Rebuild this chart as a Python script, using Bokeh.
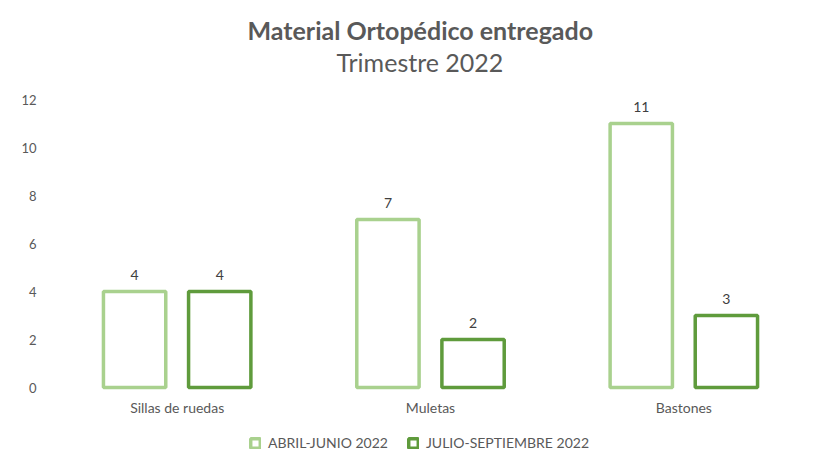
from bokeh.plotting import figure
from bokeh.models import ColumnDataSource, FactorRange, Range1d, Legend, LegendItem, Title
from bokeh.transform import dodge
from bokeh.core.properties import value
from bokeh.embed import file_html
from bokeh.resources import INLINE

categories = ["Sillas de ruedas", "Muletas", "Bastones"]
abril_junio = [4, 7, 11]
julio_septiembre = [4, 2, 3]
series_names = ["ABRIL-JUNIO 2022", "JULIO-SEPTIEMBRE 2022"]
y_ticks = [0, 2, 4, 6, 8, 10, 12]

LIGHT = "#A9D18E"
DARK = "#5F9B3C"
FONT = "Lato"

src = ColumnDataSource(dict(cat=categories, a=abril_junio, b=julio_septiembre,
                            zero=[0] * len(categories),
                            a_txt=[str(v) for v in abril_junio],
                            b_txt=[str(v) for v in julio_septiembre]))

# y range extends below 0 so the category labels and legend sit inside the frame
p = figure(x_range=FactorRange(*categories, range_padding=0),
           y_range=Range1d(-3, 12),
           frame_width=760, frame_height=360, output_backend="svg", toolbar_location=None,
           min_border_left=50, min_border_right=3, min_border_top=99, min_border_bottom=0)

p.title = None
spacer = Title(text=" ", text_font=FONT, text_font_size="10px", standoff=9)
sub = Title(text="Trimestre 2022", align="left", text_font=FONT, text_font_size="25px",
            text_font_style="normal", text_color="#595959", standoff=0, offset=286)
main = Title(text="Material Ortopédico entregado", align="left", text_font=FONT,
             text_font_size="25px", text_font_style="bold", text_color="#595959", standoff=0, offset=197)
p.add_layout(spacer, "above")
p.add_layout(sub, "above")
p.add_layout(main, "above")

ra = p.vbar(x=dodge("cat", -0.168, range=p.x_range), top="a", width=0.246, bottom=0, source=src,
            fill_color="white", line_color=LIGHT, line_width=3.5)
rb = p.vbar(x=dodge("cat", 0.168, range=p.x_range), top="b", width=0.246, bottom=0, source=src,
            fill_color="white", line_color=DARK, line_width=3.5)

p.text(x=dodge("cat", -0.168, range=p.x_range), y="a", text="a_txt", source=src,
       text_align="center", text_baseline="bottom", y_offset=-12,
       text_font=value(FONT), text_font_size="14px", text_color="#404040")
p.text(x=dodge("cat", 0.168, range=p.x_range), y="b", text="b_txt", source=src,
       text_align="center", text_baseline="bottom", y_offset=-12,
       text_font=value(FONT), text_font_size="14px", text_color="#404040")

# category labels
p.text(x="cat", y="zero", text="cat", source=src,
       text_align="center", text_baseline="top", y_offset=11,
       text_font=value(FONT), text_font_size="14px", text_color="#595959")

p.xgrid.visible = False
p.ygrid.visible = False
p.outline_line_color = None
p.xaxis.visible = False

p.yaxis.ticker = y_ticks
p.yaxis.axis_line_color = None
p.yaxis.major_tick_line_color = None
p.yaxis.minor_tick_line_color = None
p.yaxis.major_tick_out = 0
p.yaxis.minor_tick_out = 0
p.yaxis.major_label_standoff = 14
p.yaxis.major_label_text_font = FONT
p.yaxis.major_label_text_font_size = "13px"
p.yaxis.major_label_text_color = "#595959"

legend = Legend(items=[LegendItem(label=series_names[0], renderers=[ra]),
                       LegendItem(label=series_names[1], renderers=[rb])],
                orientation="horizontal", location=(199, 8),
                label_text_font=FONT, label_text_font_size="14px", label_text_color="#595959",
                glyph_width=12, glyph_height=12, label_height=14, spacing=19, label_standoff=7,
                border_line_color=None, background_fill_alpha=0, margin=0, padding=4)
p.add_layout(legend, "center")

open("out.html", "w").write(file_html(p, INLINE))
